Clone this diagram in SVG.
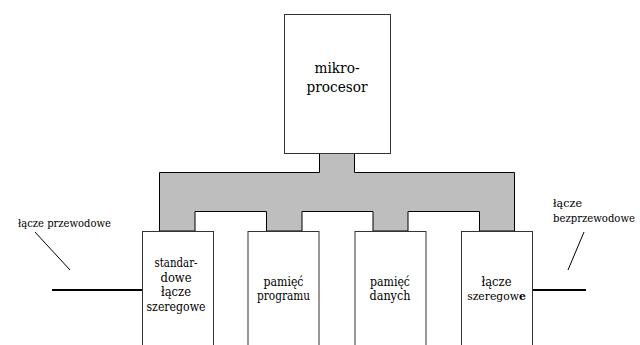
<svg xmlns="http://www.w3.org/2000/svg" width="640" height="345" viewBox="0 0 640 345">
<style>
.box{fill:#fff;stroke:#333;stroke-width:1}
.bus{fill:#bebebe;stroke:#000;stroke-width:1}
.t{font-family:'DejaVu Serif','Liberation Serif',serif;font-size:12px;fill:#000;text-anchor:middle}
.big{font-size:14.5px}
.lbl{font-family:'DejaVu Serif','Liberation Serif',serif;font-size:11.5px;fill:#000}
.wire{stroke:#000;stroke-width:2;fill:none}
.lead{stroke:#000;stroke-width:1;fill:none}
</style>
<rect width="640" height="345" fill="#fff"/>
<g id="bus">
<path class="bus" d="M159.5,231 V172.5 H319.5 V153 H354.5 V172.5 H514.5 V231 H479.5 V211.5 H408 V231 H373 V211.5 H302 V231 H266.5 V211.5 H195 V231 Z"/>
</g>
<g id="mikroprocesor">
<rect class="box" x="284.5" y="14.5" width="106" height="139"/>
<text class="t big" x="337" y="73" textLength="45" lengthAdjust="spacingAndGlyphs">mikro-</text>
<text class="t big" x="337" y="92" textLength="61" lengthAdjust="spacingAndGlyphs">procesor</text>
</g>
<g id="standardowe">
<rect class="box" x="142.5" y="231.5" width="71" height="130"/>
<text class="t" x="176" y="267" textLength="43" lengthAdjust="spacingAndGlyphs">standar-</text>
<text class="t" x="176" y="281.5" textLength="31" lengthAdjust="spacingAndGlyphs">dowe</text>
<text class="t" x="176" y="296" textLength="30" lengthAdjust="spacingAndGlyphs">łącze</text>
<text class="t" x="176" y="310.5" textLength="59" lengthAdjust="spacingAndGlyphs">szeregowe</text>
</g>
<g id="pamiec-programu">
<rect class="box" x="248" y="231.5" width="71" height="130"/>
<text class="t" x="283.5" y="286" textLength="40" lengthAdjust="spacingAndGlyphs">pamięć</text>
<text class="t" x="283.5" y="300" textLength="53" lengthAdjust="spacingAndGlyphs">programu</text>
</g>
<g id="pamiec-danych">
<rect class="box" x="355" y="231.5" width="71" height="130"/>
<text class="t" x="390" y="286" textLength="40" lengthAdjust="spacingAndGlyphs">pamięć</text>
<text class="t" x="390" y="300" textLength="41" lengthAdjust="spacingAndGlyphs">danych</text>
</g>
<g id="lacze-szeregowe">
<rect class="box" x="461.5" y="231.5" width="71" height="130"/>
<text class="t" x="496.5" y="286" textLength="30" lengthAdjust="spacingAndGlyphs">łącze</text>
<text class="t" x="496.5" y="300" style="font-size:10.8px">szeregow<tspan font-weight="bold">e</tspan></text>
</g>
<g id="connectors">
<line class="wire" x1="52" y1="290" x2="142" y2="290"/>
<line class="wire" x1="533" y1="290" x2="586" y2="290"/>
<line class="lead" x1="35" y1="232" x2="70" y2="270"/>
<line class="lead" x1="584" y1="232" x2="568" y2="270"/>
</g>
<g id="labels">
<text class="lbl" x="18" y="227" textLength="93" lengthAdjust="spacingAndGlyphs">łącze przewodowe</text>
<text class="lbl" x="553" y="207" textLength="29" lengthAdjust="spacingAndGlyphs">łącze</text>
<text class="lbl" x="553" y="221.5" style="font-size:10.5px" textLength="82" lengthAdjust="spacingAndGlyphs">bezprzewodowe</text>
</g>
</svg>
